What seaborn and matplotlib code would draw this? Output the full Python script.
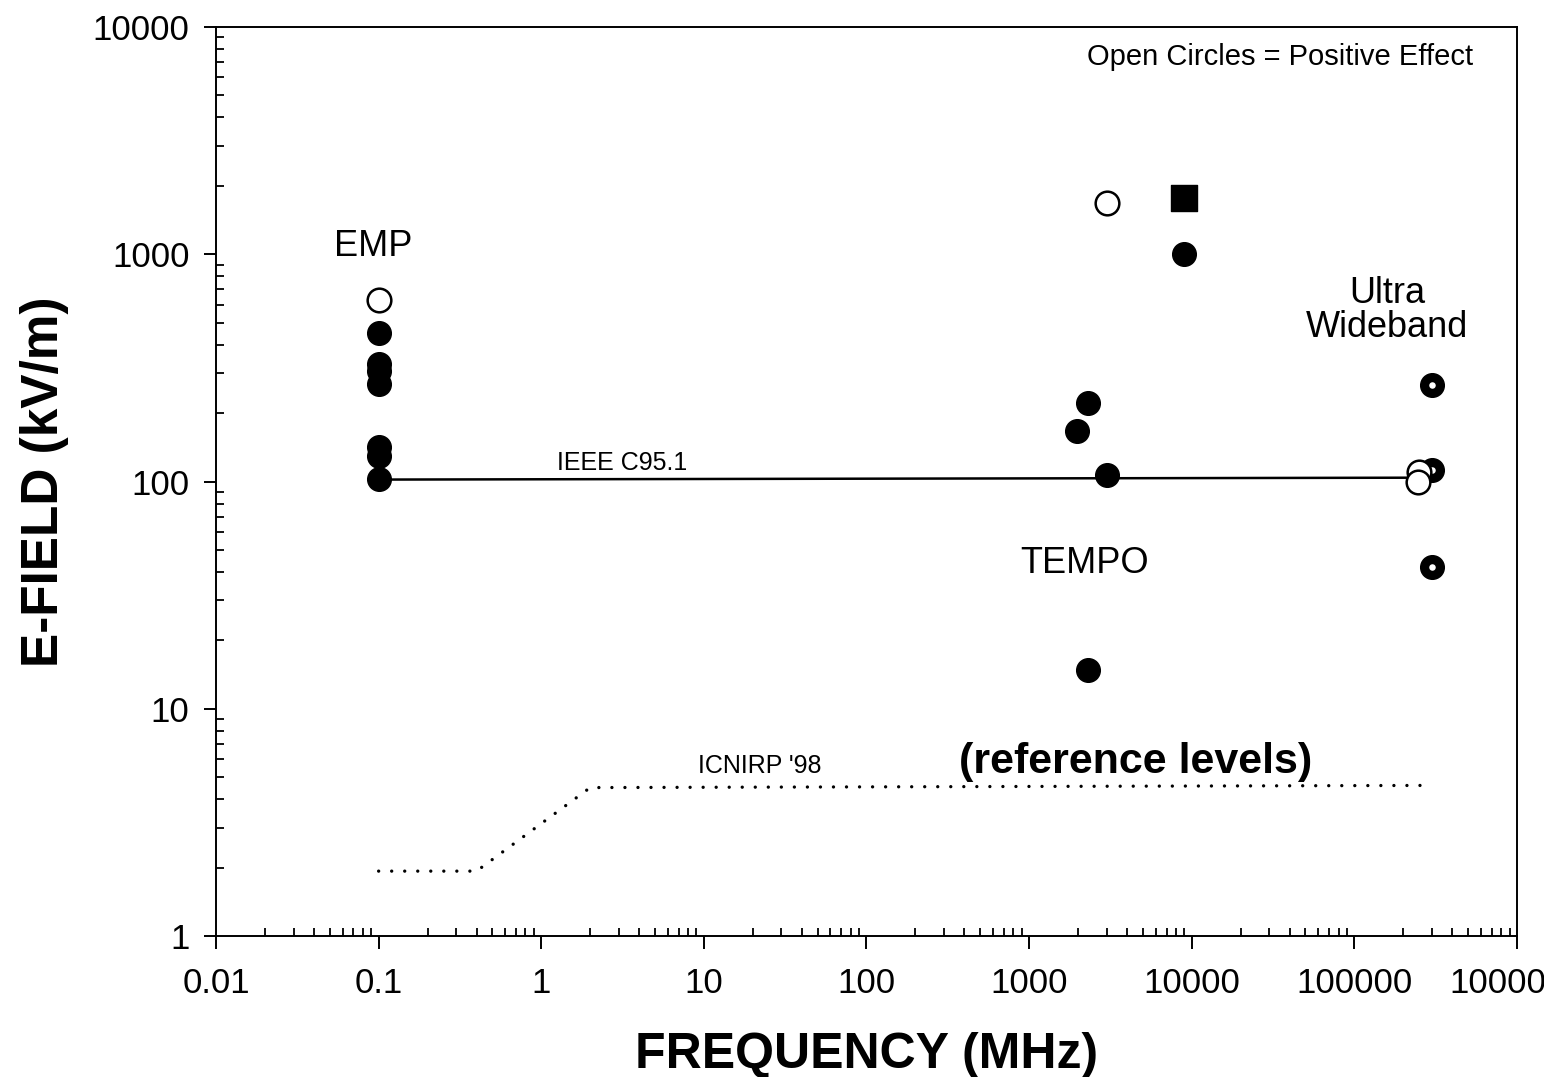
import numpy as np
import pandas as pd
import matplotlib
matplotlib.use("Agg")
import matplotlib.pyplot as plt
from matplotlib.ticker import LogLocator, FuncFormatter, NullFormatter
import seaborn as sns

# ---------------- data ----------------
emp_filled_x = [0.1, 0.1, 0.1, 0.1, 0.1, 0.1, 0.1]
emp_filled_y = [450, 330, 305, 268, 142, 130, 103]
emp_open_x = [0.1]
emp_open_y = [630]

tempo_filled_x = [9000, 2300, 1970, 3000, 2300]
tempo_filled_y = [1000, 221, 167, 107, 14.8]
tempo_open_x = [3000]
tempo_open_y = [1680]
tempo_square_x = [9000]
tempo_square_y = [1760]

uwb_bull_x = [300000, 300000, 300000]
uwb_bull_y = [266, 112, 42]
uwb_open_x = [250000, 245000]
uwb_open_y = [110, 100]

ieee_x = [0.1, 300000]
ieee_y = [102, 104]

icnirp_x = [0.1, 0.4, 2.0, 300000]
icnirp_y = [1.93, 1.93, 4.5, 4.6]

x_ticks = [0.01, 0.1, 1, 10, 100, 1000, 10000, 100000, 1000000]
y_ticks = [1, 10, 100, 1000, 10000]

# ---------------- style ----------------
sns.set_theme(style="ticks")
plt.rcParams["font.family"] = ["Liberation Sans", "DejaVu Sans"]
plt.rcParams.update({"text.color": "black", "axes.labelcolor": "black",
                     "xtick.color": "black", "ytick.color": "black",
                     "axes.edgecolor": "black"})

fig = plt.figure(figsize=(15.44, 10.77), dpi=100)
ax = fig.add_axes([0.1399, 0.1309, 0.8426, 0.8440])
ax.set_xscale("log")
ax.set_yscale("log")

# lines
df_ieee = pd.DataFrame({"x": ieee_x, "y": ieee_y})
sns.lineplot(data=df_ieee, x="x", y="y", ax=ax, color="black", lw=1.8, zorder=2)
df_icn = pd.DataFrame({"x": icnirp_x, "y": icnirp_y})
sns.lineplot(data=df_icn, x="x", y="y", ax=ax, color="black", lw=2.4,
             linestyle=(0, (0.01, 3.9)), dash_capstyle="round", zorder=2)

ms = 290
# filled circles
df_f = pd.DataFrame({"x": emp_filled_x + tempo_filled_x,
                     "y": emp_filled_y + tempo_filled_y})
sns.scatterplot(data=df_f, x="x", y="y", ax=ax, s=ms, color="black",
                edgecolor="black", linewidth=1, zorder=3)
# bullseye circles
df_b = pd.DataFrame({"x": uwb_bull_x, "y": uwb_bull_y})
sns.scatterplot(data=df_b, x="x", y="y", ax=ax, s=ms, color="black",
                edgecolor="black", linewidth=1, zorder=3)
sns.scatterplot(data=df_b, x="x", y="y", ax=ax, s=22, color="white",
                edgecolor="white", linewidth=0, zorder=4)
# square
df_s = pd.DataFrame({"x": tempo_square_x, "y": tempo_square_y})
sns.scatterplot(data=df_s, x="x", y="y", ax=ax, s=330, marker="s",
                color="black", edgecolor="black", linewidth=1, zorder=3)
# open circles
df_o = pd.DataFrame({"x": emp_open_x + tempo_open_x + uwb_open_x,
                     "y": emp_open_y + tempo_open_y + uwb_open_y})
sns.scatterplot(data=df_o, x="x", y="y", ax=ax, s=ms, color="white",
                edgecolor="black", linewidth=1.8, zorder=5)

# axes limits / ticks
ax.set_xlim(0.01, 1e6)
ax.set_ylim(1, 10000)
ax.set_xticks(x_ticks)
ax.set_yticks(y_ticks)
fmt = FuncFormatter(lambda v, p: f"{v:.10g}")
ax.xaxis.set_major_formatter(fmt)
ax.yaxis.set_major_formatter(fmt)
ax.xaxis.set_minor_locator(LogLocator(base=10, subs=np.arange(2, 10), numticks=20))
ax.yaxis.set_minor_locator(LogLocator(base=10, subs=np.arange(2, 10), numticks=20))
ax.xaxis.set_minor_formatter(NullFormatter())
ax.yaxis.set_minor_formatter(NullFormatter())
ax.tick_params(which="major", direction="out", length=9, width=1.4,
               labelsize=25, colors="black", pad=10)
ax.tick_params(axis="x", which="major", pad=13)
ax.tick_params(which="minor", direction="in", length=6, width=1.3)
for s in ax.spines.values():
    s.set_color("black")
    s.set_linewidth(1.4)

ax.set_xlabel("FREQUENCY (MHz)", fontsize=36, fontweight="bold", labelpad=23)
ax.set_ylabel("E-FIELD (kV/m)", fontsize=37, fontweight="bold", labelpad=17)

# annotations
ax.text(0.092, 1080, "EMP", fontsize=26, ha="center", va="center")
ax.text(1.59e5, 565, "Ultra\nWideband", fontsize=26, ha="center",
        va="center", linespacing=0.97)
ax.text(2207, 43.7, "TEMPO", fontsize=26, ha="center", va="center")
ax.text(3.14, 121, "IEEE C95.1", fontsize=18, ha="center", va="center")
ax.text(22.2, 5.6, "ICNIRP '98", fontsize=18, ha="center", va="center")
ax.text(4490, 5.85, "(reference levels)", fontsize=31, fontweight="bold",
        ha="center", va="center")
ax.text(0.9665, 0.967, "Open Circles = Positive Effect", fontsize=21,
        ha="right", va="center", transform=ax.transAxes)

fig.savefig("out.png", dpi=100)
